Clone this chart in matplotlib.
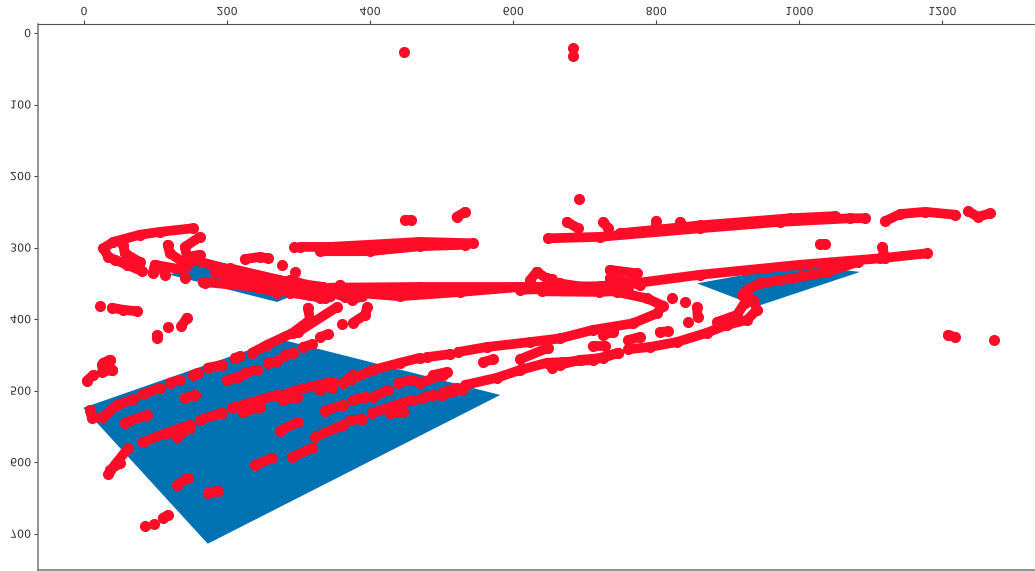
import matplotlib
matplotlib.use('Agg')
import matplotlib.pyplot as plt
from matplotlib.patches import Polygon
from matplotlib.patheffects import AbstractPathEffect
from matplotlib.transforms import Affine2D

# blue regions
region_large = [(-1, 524), (274, 428), (582, 506), (173, 714)]
region_left = [(120, 338), (166, 315), (330, 351), (270, 376)]
region_right = [(857, 350), (1001, 324), (1085, 334), (941, 382)]

x_ticks = [0, 200, 400, 600, 800, 1000, 1200]
y_ticks = [0, 100, 200, 300, 400, 500, 600, 700]

# detections, grouped by where they sit in the picture
upper_tracks = [
    [(302, 299), (344, 299), (400, 296), (470, 292), (544, 294)],
    [(330, 305), (400, 305), (470, 298), (533, 296)],
    [(294, 299)],
    [(449, 261), (457, 261)],
    [(521, 257), (533, 250)],
    [(649, 287), (721, 285), (861, 273), (973, 264), (1071, 259), (1092, 259)],
    [(749, 280), (861, 269), (987, 259), (1050, 256)],
    [(1120, 263), (1141, 253), (1176, 250), (1218, 254)],
    [(1236, 249), (1250, 257), (1267, 252)],
    [(675, 264), (691, 273)],
    [(726, 264), (733, 273)],
    [(800, 263), (800, 270)],
    [(833, 264), (833, 270)],
]
lone_points = [
    [(447, 27)], [(684, 21)], [(684, 32)], [(692, 232)],
    [(1029, 295), (1036, 295)], [(1116, 299), (1120, 315)],
    [(1208, 422), (1218, 425)], [(1272, 429)],
    [(277, 324)], [(295, 334)],
    [(22, 382)], [(39, 384), (55, 387), (74, 389)],
    [(144, 398), (136, 410)], [(117, 411)], [(102, 422), (102, 426)],
    [(32, 461), (36, 457), (25, 464), (39, 471)],
    [(4, 486), (13, 478)], [(25, 474), (39, 471)], [(27, 461), (36, 457)],
    [(85, 689)], [(98, 686)], [(110, 678), (117, 674)],
]
central_tracks = [
    [(344, 356), (470, 355), (610, 355), (721, 354), (777, 349), (861, 338),
     (1001, 324), (1113, 315), (1179, 308)],
    [(365, 362), (442, 368), (526, 362), (610, 355)],
    [(610, 359), (721, 355)],
    [(640, 361), (720, 362), (760, 360)],
    [(665, 350), (745, 362), (787, 371), (809, 381), (801, 392), (767, 406),
     (712, 415), (665, 427), (624, 432), (563, 439), (523, 446)],
    [(480, 453), (512, 449)],
    [(372, 485), (404, 471), (442, 461), (470, 454)],
    [(735, 331), (773, 336), (759, 359)],
    [(735, 343), (777, 352)],
    [(633, 334), (647, 343), (654, 344)],
    [(624, 345), (633, 334)],
]
hook_tracks = [
    [(761, 442), (791, 439), (829, 432), (871, 419), (899, 408), (927, 401),
     (941, 387), (935, 373), (920, 366), (927, 359), (945, 350), (991, 343),
     (1039, 334), (1082, 320)],
    [(885, 404), (913, 394), (924, 377)],
    [(761, 429), (777, 425)],
    [(805, 418), (816, 417)],
    [(844, 404)],
    [(857, 383), (858, 397)],
    [(840, 376)],
    [(822, 370)],
    [(726, 422), (740, 418)],
    [(712, 438), (728, 438)],
]
lower_tracks = [
    [(665, 464), (693, 457), (726, 454), (747, 447)],
    [(533, 492), (577, 482), (610, 471), (647, 461), (670, 460), (712, 457), (747, 447)],
    [(654, 468)],
    [(610, 456), (649, 440)],
    [(558, 460), (572, 456)],
    [(488, 478), (507, 474)],
    [(439, 489), (460, 485)],
    [(470, 489), (502, 478)],
    [(82, 572), (116, 559), (148, 548)],
    [(130, 565), (148, 552)],
    [(162, 541), (193, 531)],
    [(207, 524), (270, 506)],
    [(222, 530), (246, 523)],
    [(278, 506), (298, 499), (344, 488)],
    [(278, 513), (298, 509)],
    [(330, 499), (348, 488), (347, 496)],
    [(362, 489), (376, 478)],
]
diagonal_tracks = [
    [(8, 527), (11, 538), (27, 537), (46, 520), (69, 512)],
    [(82, 505), (106, 496)],
    [(120, 489), (134, 485)],
    [(152, 478), (159, 475)],
    [(173, 468), (193, 464)],
    [(211, 454), (218, 452)],
    [(235, 447), (256, 436), (292, 419), (316, 401), (313, 384)],
    [(57, 545), (88, 534)],
    [(141, 510), (155, 506)],
    [(200, 485), (215, 481)],
    [(225, 475), (242, 471)],
    [(257, 461), (270, 459)],
    [(281, 450), (292, 447)],
    [(306, 439), (319, 435)],
    [(330, 425), (341, 421)],
    [(361, 407)],
    [(376, 405), (393, 394), (396, 383)],
    [(299, 418), (354, 383)],
    [(34, 617), (43, 604), (62, 580)],
    [(36, 611), (50, 601)],
    [(130, 632), (145, 622)],
    [(173, 643), (187, 640)],
    [(239, 604), (263, 594)],
    [(291, 593), (319, 580)],
    [(323, 565), (362, 548)],
    [(372, 541), (389, 540)],
    [(274, 556), (299, 544)],
    [(337, 528), (362, 520)],
    [(376, 513), (393, 509)],
    [(404, 509), (425, 499)],
    [(403, 531), (446, 517), (460, 513)],
    [(428, 531), (446, 530)],
    [(473, 510), (488, 506)],
    [(500, 506), (528, 499)],
    [(502, 502), (521, 496)],
]
left_tracks = [
    [(152, 273), (106, 278), (78, 282), (41, 292), (27, 301), (34, 313), (43, 317),
     (60, 324), (81, 333)],
    [(55, 296), (57, 308), (78, 320)],
    [(99, 324), (96, 336)],
    [(99, 324), (138, 331)],
    [(113, 338), (110, 329)],
    [(141, 343)],
    [(169, 349)],
    [(117, 296), (120, 308), (144, 324)],
    [(162, 285), (141, 299), (144, 313), (162, 310)],
    [(152, 317), (222, 336), (292, 349), (334, 355)],
    [(183, 334), (246, 352), (316, 366), (344, 368)],
    [(166, 348), (242, 355), (270, 363)],
    [(260, 349), (337, 359)],
    [(288, 363), (337, 370)],
    [(204, 329), (302, 352)],
    [(232, 352), (330, 370)],
    [(288, 345), (365, 369)],
    [(358, 352), (375, 373), (389, 368)],
    [(225, 316), (246, 313), (257, 315)],
]


class FlipVertical(AbstractPathEffect):
    # tick labels are mirrored top to bottom in the picture
    def draw_path(self, renderer, gc, tpath, affine, rgbFace=None):
        box = tpath.get_extents()
        mid = (box.y0 + box.y1) / 2
        flip = Affine2D().translate(0, -mid).scale(1, -1).translate(0, mid)
        renderer.draw_path(gc, tpath, flip + affine, rgbFace)


fig = plt.figure(figsize=(10.35, 5.71), dpi=100)
ax = fig.add_axes([38 / 1035, 1 / 571, 998 / 1035, 546 / 571])

for region in [region_large, region_left, region_right]:
    ax.add_patch(Polygon(region, closed=True, facecolor='#0072b2', edgecolor='none', zorder=1))

all_tracks = (upper_tracks + lone_points + central_tracks + hook_tracks
              + lower_tracks + diagonal_tracks + left_tracks)
for track in all_tracks:
    xs = [p[0] for p in track]
    ys = [p[1] for p in track]
    ax.plot(xs, ys, color='#ff0d28', lw=7, marker='o', ms=7,
            solid_capstyle='round', solid_joinstyle='round', zorder=2)

ax.set_xlim(-64.3, 1331)
ax.set_ylim(750.7, -12.6)
ax.set_xticks(x_ticks)
ax.set_yticks(y_ticks)
ax.xaxis.tick_top()
ax.tick_params(length=3, width=0.8, color='#444444', labelcolor='#333333', labelsize=8, pad=2)
for label in ax.get_xticklabels() + ax.get_yticklabels():
    label.set_path_effects([FlipVertical()])

ax.spines['right'].set_visible(False)
ax.spines['top'].set_color('#555555')
ax.spines['left'].set_color('#777777')
ax.spines['bottom'].set_color('#777777')
ax.spines['left'].set_linewidth(1.1)
ax.spines['bottom'].set_linewidth(1.1)

fig.savefig('out.png', dpi=100)
